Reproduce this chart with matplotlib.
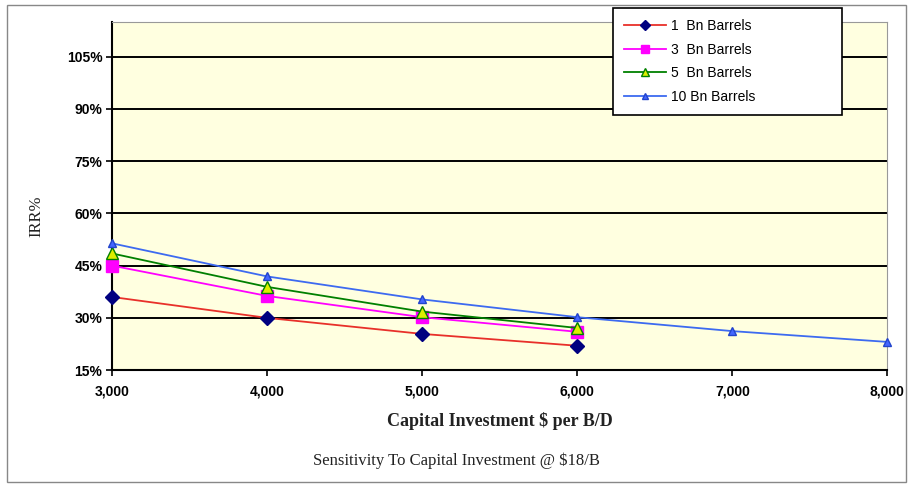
import matplotlib.pyplot as plt
from matplotlib.patches import Rectangle
from matplotlib.ticker import FuncFormatter

# capital investment ($ per B/D)
capex = [3000, 4000, 5000, 6000, 7000, 8000]

# IRR %
irr_1bn = [36.0, 30.0, 25.4, 22.0]
irr_3bn = [45.0, 36.3, 30.2, 26.0]
irr_5bn = [48.5, 38.9, 31.8, 27.1]
irr_10bn = [51.4, 41.9, 35.3, 30.2, 26.2, 23.1]

y_ticks = [15, 30, 45, 60, 75, 90, 105]

fig = plt.figure(figsize=(9.12, 4.87), dpi=100)
ax = fig.add_axes([0.123, 0.240, 0.850, 0.715])
ax.set_facecolor('#FFFFE0')

ax.plot(capex[:4], irr_1bn, color='#E8302A', lw=1.3, marker='D', ms=7,
        mfc='#000080', mec='#000080', label='1  Bn Barrels', zorder=4, clip_on=False)
ax.plot(capex[:4], irr_3bn, color='#FF00FF', lw=1.3, marker='s', ms=8,
        mfc='#FF00FF', mec='#FF00FF', label='3  Bn Barrels', zorder=4, clip_on=False)
ax.plot(capex[:4], irr_5bn, color='#008000', lw=1.3, marker='^', ms=8,
        mfc='#DDEE00', mec='#008000', label='5  Bn Barrels', zorder=4, clip_on=False)
ax.plot(capex, irr_10bn, color='#3D6AF0', lw=1.3, marker='^', ms=6,
        mfc='#4466FF', mec='#2244CC', label='10 Bn Barrels', zorder=4, clip_on=False)

ax.set_xlim(3000, 8000)
ax.set_ylim(15, 115)
ax.set_yticks(y_ticks)
ax.set_xticks(capex)
ax.yaxis.set_major_formatter(FuncFormatter(lambda v, p: f'{v:.0f}%'))
ax.xaxis.set_major_formatter(FuncFormatter(lambda v, p: f'{v:,.0f}'))
ax.grid(axis='y', color='black', lw=1.4)
ax.set_axisbelow(True)

for lab in ax.get_xticklabels() + ax.get_yticklabels():
    lab.set_fontweight('bold')
    lab.set_fontsize(10)
    lab.set_fontfamily('Liberation Sans')
ax.tick_params(direction='out', length=4, width=1.2, colors='black', pad=3)
ax.tick_params(axis='x', pad=6)

ax.spines['left'].set_linewidth(1.5)
ax.spines['bottom'].set_linewidth(1.5)
ax.spines['top'].set_color('#999999')
ax.spines['right'].set_color('#999999')

ax.set_xlabel('Capital Investment $ per B/D', fontfamily='Liberation Serif',
              fontsize=13, fontweight='bold', color='#222222', labelpad=10)
ax.set_ylabel('IRR%', fontfamily='Liberation Serif', fontsize=12, color='#222222')
ax.yaxis.set_label_coords(-0.088, 0.443)

fig.text(0.5, 0.045, 'Sensitivity To Capital Investment @ $18/B',
         ha='center', fontfamily='Liberation Serif', fontsize=12, color='#222222')

leg = fig.legend(loc='upper left', bbox_to_anchor=(0.672, 0.75, 0.251, 0.234),
                 mode='expand', fancybox=False, edgecolor='black', framealpha=1,
                 prop={'family': 'Liberation Sans', 'size': 10},
                 borderpad=0.8, labelspacing=0.7, handlelength=3.0,
                 handletextpad=0.4, borderaxespad=0, markerscale=0.8)
leg.get_frame().set_linewidth(1.2)
leg.set_zorder(10)

fig.patches.append(Rectangle((0.008, 0.01), 0.985, 0.98, transform=fig.transFigure,
                             fill=False, edgecolor='#888888', lw=1))

fig.savefig('out.png', dpi=100)
